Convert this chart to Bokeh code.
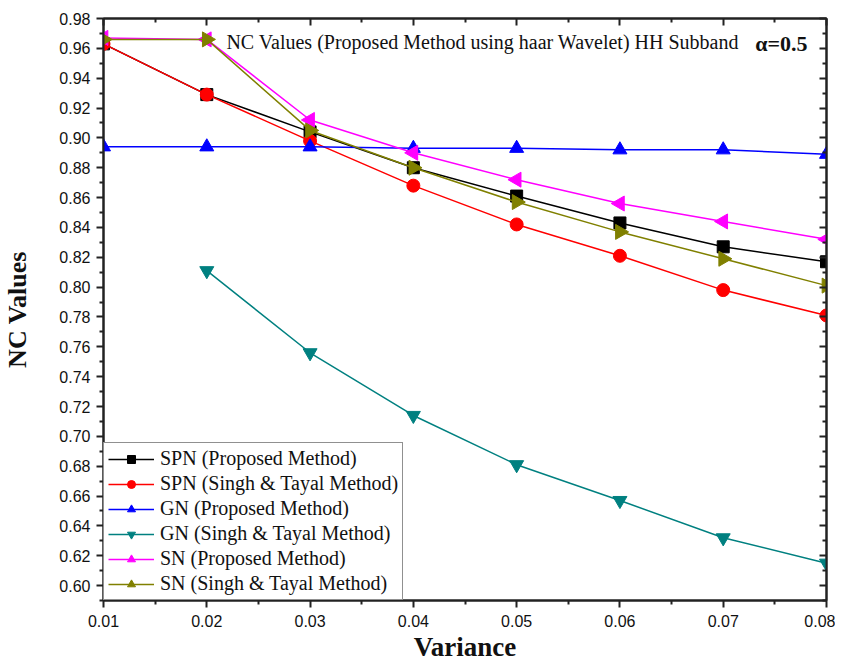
import math
from bokeh.plotting import figure
from bokeh.models import (LinearAxis, FixedTicker, PrintfTickFormatter, CustomJSTickFormatter,
                          Label, Range1d, Legend)
from bokeh.embed import file_html
from bokeh.resources import INLINE

variance = [0.01, 0.02, 0.03, 0.04, 0.05, 0.06, 0.07, 0.08]
variance_gn_singh = [0.02, 0.03, 0.04, 0.05, 0.06, 0.07, 0.08]

spn_proposed = [0.963, 0.929, 0.904, 0.880, 0.861, 0.843, 0.827, 0.817]
spn_singh = [0.963, 0.929, 0.898, 0.868, 0.842, 0.821, 0.798, 0.781]
gn_proposed = [0.894, 0.894, 0.894, 0.893, 0.893, 0.892, 0.892, 0.889]
gn_singh = [0.811, 0.756, 0.714, 0.681, 0.657, 0.632, 0.615]
sn_proposed = [0.967, 0.966, 0.912, 0.890, 0.872, 0.856, 0.844, 0.832]
sn_singh = [0.966, 0.966, 0.905, 0.880, 0.857, 0.837, 0.819, 0.801]

y_ticks = [round(0.60 + 0.02 * i, 2) for i in range(20)]
y_minor = [round(0.59 + 0.02 * i, 2) for i in range(20)]
x_ticks = [0.01, 0.02, 0.03, 0.04, 0.05, 0.06, 0.07, 0.08]
x_minor = [0.015, 0.025, 0.035, 0.045, 0.055, 0.065, 0.075]

series = [
    ("SPN (Proposed Method)", variance, spn_proposed, "#000000", "square", 0.0, 12),
    ("SPN (Singh & Tayal Method)", variance, spn_singh, "#FF0000", "circle", 0.0, 13),
    ("GN (Proposed Method)", variance, gn_proposed, "#0000FF", "triangle", 0.0, 14),
    ("GN (Singh & Tayal Method)", variance_gn_singh, gn_singh, "#008080", "inverted_triangle", 0.0, 14),
    ("SN (Proposed Method)", variance, sn_proposed, "#FF00FF", "triangle", math.pi / 2, 15),
    ("SN (Singh & Tayal Method)", variance, sn_singh, "#808000", "triangle", -math.pi / 2, 15),
]

p = figure(width=835, height=664, output_backend="svg", toolbar_location=None,
           x_range=Range1d(0.01, 0.08), y_range=Range1d(0.59, 0.98))
p.min_border_left = 103
p.min_border_top = 18
p.min_border_right = 9
p.min_border_bottom = 57
p.grid.visible = False
p.outline_line_color = "#222222"
p.outline_line_width = 2

tick_font = "Liberation Sans"
serif = "Liberation Serif"

xa = p.xaxis[0]
xa.ticker = FixedTicker(ticks=x_ticks, minor_ticks=x_minor)
xa.formatter = PrintfTickFormatter(format="%.2f")
xa.axis_label = "Variance"
ya = p.yaxis[0]
ya.ticker = FixedTicker(ticks=y_ticks, minor_ticks=y_minor)
ya.formatter = PrintfTickFormatter(format="%.2f")
ya.axis_label = "NC Values"

for ax in (xa, ya):
    ax.axis_line_width = 2
    ax.axis_line_color = "#222222"
    ax.major_tick_line_width = 2
    ax.minor_tick_line_width = 2
    ax.major_tick_line_color = "#222222"
    ax.minor_tick_line_color = "#222222"
    ax.major_tick_out = 7
    ax.major_tick_in = 0
    ax.minor_tick_out = 4
    ax.minor_tick_in = 0
    ax.major_label_text_font = tick_font
    ax.major_label_text_font_size = "16px"
    ax.major_label_text_color = "#111111"
    ax.axis_label_text_font = serif
    ax.axis_label_text_font_style = "bold"
    ax.axis_label_text_color = "#111111"
xa.axis_label_text_font_size = "27px"
ya.axis_label_text_font_size = "26px"
xa.major_label_standoff = 7
xa.axis_label_standoff = 2
ya.major_label_standoff = 6
ya.axis_label_standoff = 24

blank = CustomJSTickFormatter(code="return '';")
top = LinearAxis(ticker=FixedTicker(ticks=x_ticks, minor_ticks=x_minor), formatter=blank)
right = LinearAxis(ticker=FixedTicker(ticks=y_ticks, minor_ticks=y_minor), formatter=blank)
for ax in (top, right):
    ax.major_label_standoff = 0
    ax.axis_line_width = 2
    ax.axis_line_color = "#222222"
    ax.major_tick_line_width = 2
    ax.minor_tick_line_width = 2
    ax.major_tick_line_color = "#222222"
    ax.minor_tick_line_color = "#222222"
    ax.major_tick_out = 0
    ax.major_tick_in = 7
    ax.minor_tick_out = 0
    ax.minor_tick_in = 4
p.add_layout(top, "above")
p.add_layout(right, "right")

legend_items = []
for name, xs, ys, color, marker, angle, size in series:
    r1 = p.line(xs, ys, line_color=color, line_width=1.5)
    r2 = p.scatter(xs, ys, marker=marker, angle=angle, size=size,
                   fill_color=color, line_color=color)
    legend_items.append((name, [r1, r2]))

legend = Legend(items=legend_items, location="bottom_left")
legend.label_text_font = serif
legend.label_text_font_size = "20px"
legend.label_text_color = "#111111"
legend.glyph_width = 46
legend.glyph_height = 20
legend.label_height = 20
legend.spacing = 2
legend.padding = 4
legend.margin = 0
legend.label_standoff = 6
legend.border_line_color = "#222222"
legend.border_line_width = 1.5
legend.background_fill_alpha = 1
p.add_layout(legend, "center")

title = Label(x=0.0219, y=0.9645, text="NC Values (Proposed Method using haar Wavelet) HH Subband",
              text_font=serif, text_font_size="20px", text_color="#111111",
              text_baseline="middle")
alpha_lbl = Label(x=0.0731, y=0.9635, text="α=0.5", text_font=serif, text_font_size="22px",
                  text_font_style="bold", text_color="#111111", text_baseline="middle")
p.add_layout(title)
p.add_layout(alpha_lbl)

open("out.html", "w").write(file_html(p, INLINE))
